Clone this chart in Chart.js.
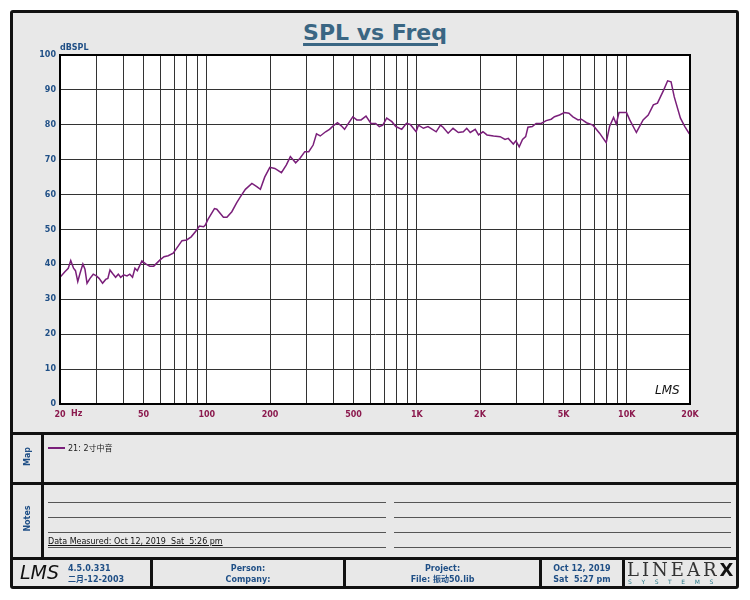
<!DOCTYPE html>
<html>
<head>
<meta charset="utf-8">
<script src="https://cdn.jsdelivr.net/npm/chart.js@4.4.0/dist/chart.umd.min.js"></script>
<style>
  body { margin:0; width:750px; height:600px; background:#fff; position:relative; overflow:hidden;
         font-family:"DejaVu Sans","Noto Sans CJK SC",sans-serif; }
  .a { position:absolute; }
  #frame { left:10px; top:10px; width:729px; height:579px; box-sizing:border-box;
           border:3px solid #111; background:#e8e8e8; border-radius:3px; }
  .bar { position:absolute; background:#111; }
  .thin { position:absolute; background:#555; height:1px; }
  .blue { color:#1f4f86; font-weight:bold; font-size:8px; }
  #title { left:0; width:750px; top:20px; text-align:center; font-size:22px; font-weight:bold;
           color:#3a6683; }
  #title span { text-decoration:underline; text-decoration-thickness:3px; text-underline-offset:3px; }
  #wrap { left:12px; top:12px; width:726px; height:420px; }
  .side { width:60px; text-align:center; transform:rotate(-90deg); }
  .cell { text-align:center; line-height:11px; }
  .lms { font-style:italic; font-family:"DejaVu Sans",sans-serif; color:#111; }
</style>
</head>
<body>
<div id="frame" class="a"></div>
<div id="title" class="a"><span>SPL vs Freq</span></div>
<div id="wrap" class="a"><canvas id="chart"></canvas></div>
<div class="a blue" style="left:60px;top:43px;">dBSPL</div>
<div class="a" style="left:71px;top:409px;font-size:8px;font-weight:bold;color:#8b1a4e;">Hz</div>
<div class="a lms" style="left:655px;top:383px;font-size:12px;">LMS</div>

<!-- separators -->
<div class="bar" style="left:10px;top:432px;width:729px;height:3px;"></div>
<div class="bar" style="left:10px;top:482px;width:729px;height:3px;"></div>
<div class="bar" style="left:10px;top:557px;width:729px;height:3px;"></div>
<div class="bar" style="left:41px;top:433px;width:3px;height:125px;"></div>
<div class="bar" style="left:150px;top:558px;width:3px;height:30px;"></div>
<div class="bar" style="left:343px;top:558px;width:3px;height:30px;"></div>
<div class="bar" style="left:539px;top:558px;width:3px;height:30px;"></div>
<div class="bar" style="left:622px;top:558px;width:3px;height:30px;"></div>

<!-- map -->
<div class="a blue side" style="left:-3px;top:452px;">Map</div>
<div class="a" style="left:48px;top:447px;width:17px;height:2px;background:#7a1f7a;"></div>
<div class="a" style="left:68px;top:442px;font-size:8px;color:#222;">21: 2寸中音</div>

<!-- notes -->
<div class="a blue side" style="left:-3px;top:514px;">Notes</div>
<div class="thin" style="left:48px;top:502px;width:338px;"></div>
<div class="thin" style="left:48px;top:517px;width:338px;"></div>
<div class="thin" style="left:48px;top:532px;width:338px;"></div>
<div class="thin" style="left:48px;top:547px;width:338px;"></div>
<div class="thin" style="left:394px;top:502px;width:337px;"></div>
<div class="thin" style="left:394px;top:517px;width:337px;"></div>
<div class="thin" style="left:394px;top:532px;width:337px;"></div>
<div class="thin" style="left:394px;top:547px;width:337px;"></div>
<div class="a" style="left:48px;top:537px;font-size:8px;color:#111;white-space:pre;text-decoration:underline;">Data Measured: Oct 12, 2019  Sat  5:26 pm</div>

<!-- footer -->
<div class="a lms" style="left:20px;top:561px;font-size:19px;">LMS</div>
<div class="a blue" style="left:68px;top:563px;line-height:11px;">4.5.0.331<br>二月-12-2003</div>
<div class="a blue cell" style="left:153px;width:190px;top:563px;">Person:<br>Company:</div>
<div class="a blue cell" style="left:346px;width:193px;top:563px;">Project:<br>File: 振动50.lib</div>
<div class="a blue cell" style="left:542px;width:80px;top:563px;white-space:pre;">Oct 12, 2019<br>Sat  5:27 pm</div>
<div class="a" style="left:627px;top:559px;font-family:'DejaVu Serif',serif;font-size:18px;color:#333;letter-spacing:3px;font-weight:200;">LINEAR<span style="font-family:'DejaVu Sans';font-weight:bold;color:#111;letter-spacing:0;">X</span></div>
<div class="a" style="left:628px;top:578px;font-size:6px;color:#2a7a8a;letter-spacing:9.6px;">SYSTEMS</div>

<script>
// Mesure SPL (Hz, dB)
const freqs = [
  20, 21.1, 21.9, 22.5, 23.2, 23.7, 24.3, 24.9, 25.7, 26.3,
  26.9, 27.8, 28.8, 29.8, 30.7, 31.9, 33, 33.8, 34.6, 35.6,
  36.8, 37.9, 38.9, 40.2, 41.7, 43, 44.3, 45.5, 46.7, 49.1,
  51.4, 53.5, 55.9, 59.9, 62.6, 65.5, 69.2, 71.8, 76.2, 80.2,
  84.3, 89.2, 92.2, 96.6, 98.4, 101.3, 108.8, 111.6, 120, 124.7,
  131.6, 138.9, 144.2, 152.7, 164, 173, 180, 188.7, 199.6, 210.9,
  226.7, 239.4, 250, 265, 278, 293, 306, 321, 333, 347,
  368, 384, 400, 419, 437, 453, 470, 496, 518, 543,
  573, 605, 637, 663, 689, 719, 761, 795, 848, 893,
  931, 993, 1018, 1075, 1131, 1237, 1296, 1334, 1410, 1488,
  1577, 1666, 1729, 1797, 1898, 1968, 2066, 2159, 2320, 2494,
  2632, 2727, 2882, 2965, 3074, 3188, 3300, 3383, 3547, 3701,
  3911, 4133, 4367, 4525, 4780, 5050, 5300, 5540, 5860, 6080,
  6430, 6900, 7420, 7980, 8280, 8650, 8910, 9180, 9970, 10330,
  11110, 11960, 12650, 13380, 14000, 15000, 15650, 16250, 16830, 18010,
  18900, 19860
];
const spl = [
  36.3, 37.9, 38.9, 41.1, 38.9, 38.2, 35.1, 37.4, 40.1, 38.6,
  34.6, 36, 37.2, 36.7, 36, 34.6, 35.7, 36, 38.4, 37.4,
  36.3, 37.2, 36.3, 37, 36.7, 37.2, 36.3, 38.9, 38.2, 41,
  40.1, 39.5, 39.5, 41.3, 42.2, 42.5, 43.2, 44.6, 46.8, 47,
  47.9, 49.7, 51, 50.8, 51.3, 52.9, 56, 55.8, 53.5, 53.5,
  55.1, 57.7, 59.3, 61.5, 63.2, 62.3, 61.5, 65, 67.8, 67.5,
  66.3, 68.5, 70.9, 69.1, 70.4, 72.3, 72.3, 74.2, 77.4, 76.8,
  78, 78.7, 79.7, 80.6, 79.7, 78.7, 80.2, 82.3, 81.4, 81.4,
  82.5, 80.4, 80.4, 79.5, 79.9, 81.9, 80.9, 79.5, 78.7, 80.4,
  80.1, 78, 79.9, 79, 79.5, 78, 79.9, 79.3, 77.6, 79,
  77.8, 78, 79, 77.8, 78.7, 77.1, 78, 77.1, 76.8, 76.6,
  75.8, 76.1, 74.5, 75.4, 73.7, 75.8, 76.6, 79.3, 79.5, 80.4,
  80.4, 81.2, 81.6, 82.3, 82.8, 83.5, 83.3, 82.3, 81.4, 81.6,
  80.6, 79.9, 77.6, 74.9, 79.5, 82.1, 80.2, 83.5, 83.5, 81.4,
  77.8, 81.4, 82.8, 85.7, 86.2, 90, 92.6, 92.3, 88, 81.9,
  79.5, 77.4
];
const tickValues = [20, 50, 100, 200, 500, 1000, 2000, 5000, 10000, 20000];
const tickLabels = ['20', '50', '100', '200', '500', '1K', '2K', '5K', '10K', '20K'];

// lignes de grille : 1..9 par décade, de 20 à 20K
const gridFreqs = [];
[10, 100, 1000, 10000].forEach(d => {
  for (let k = 1; k <= 9; k++) {
    const f = d * k;
    if (f >= 20 && f <= 20000) gridFreqs.push(f);
  }
});

const plotBox = {
  id: 'plotBox',
  beforeDraw(c) {
    const { ctx, chartArea: a } = c;
    ctx.save();
    ctx.fillStyle = '#fff';
    ctx.fillRect(a.left, a.top, a.right - a.left, a.bottom - a.top);
    ctx.restore();
  },
  afterDraw(c) {
    const { ctx, chartArea: a } = c;
    ctx.save();
    ctx.strokeStyle = '#000';
    ctx.lineWidth = 2;
    ctx.strokeRect(a.left, a.top, a.right - a.left, a.bottom - a.top);
    ctx.restore();
  }
};

const tickFont = { family: 'DejaVu Sans', size: 8, weight: 'bold' };

new Chart(document.getElementById('chart'), {
  type: 'line',
  data: {
    datasets: [{
      label: '21: 2寸中音',
      data: freqs.map((f, i) => ({ x: f, y: spl[i] })),
      borderColor: '#7a1f7a',
      borderWidth: 1.5,
      pointRadius: 0,
      tension: 0,
      fill: false
    }]
  },
  options: {
    responsive: true,
    maintainAspectRatio: false,
    animation: false,
    layout: { padding: { left: 0, top: 43, right: 48, bottom: 0 } },
    plugins: { legend: { display: false }, tooltip: { enabled: false } },
    scales: {
      x: {
        type: 'logarithmic',
        min: 20, max: 20000,
        afterBuildTicks: s => { s.ticks = gridFreqs.map(v => ({ value: v })); },
        afterFit: s => { s.height = 28; },
        grid: { color: '#333', lineWidth: 1, drawTicks: false },
        border: { color: '#000', width: 2 },
        ticks: {
          autoSkip: false, maxRotation: 0, padding: 6,
          color: '#8b1a4e', font: tickFont,
          callback: v => {
            const i = tickValues.indexOf(v);
            return i < 0 ? '' : tickLabels[i];
          }
        }
      },
      y: {
        min: 0, max: 100,
        afterFit: s => { s.width = 48; },
        grid: { color: '#333', lineWidth: 1, drawTicks: false },
        border: { color: '#000', width: 2 },
        ticks: { stepSize: 10, padding: 4, color: '#1f4f86', font: tickFont }
      }
    }
  },
  plugins: [plotBox]
});
</script>
</body>
</html>
